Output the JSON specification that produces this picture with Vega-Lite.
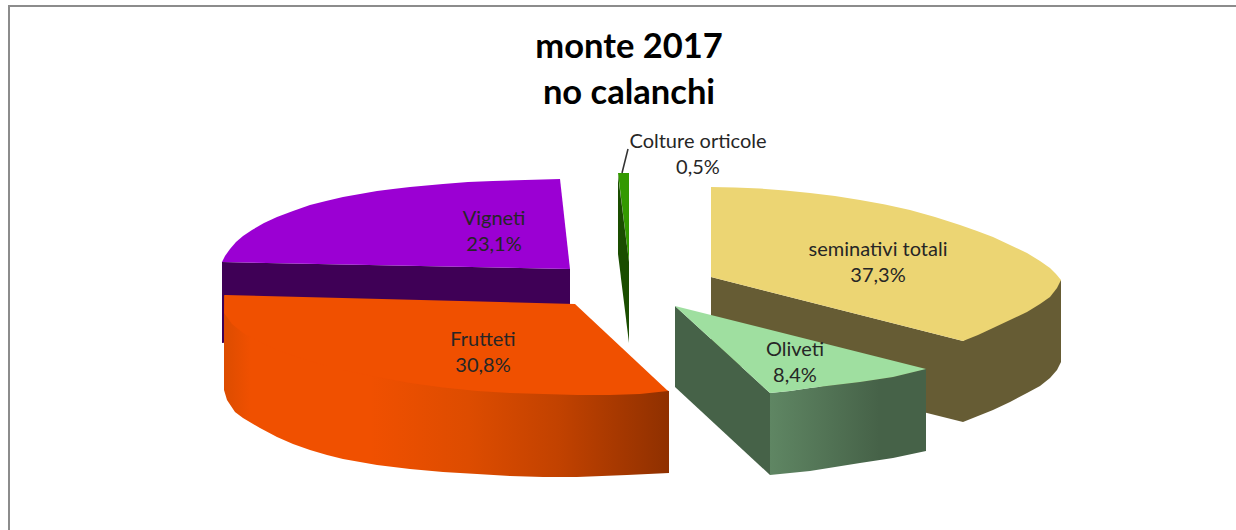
{
"$schema":"https://vega.github.io/schema/vega-lite/v6.json",
"width":1236,"height":530,"padding":0,
"autosize":{"type":"none"},
"background":"white",
"view":{"stroke":null},
"datasets":{
"outline":[
{"part":"frame","i":0,"x":-611,"y":-265},{"part":"frame","i":1,"x":-611,"y":259},{"part":"frame","i":2,"x":616,"y":259},
{"part":"leader","i":0,"x":2,"y":92},{"part":"leader","i":1,"x":8,"y":116},
{"part":"vigneti side","i":0,"x":-398,"y":3},{"part":"vigneti side","i":1,"x":-50,"y":-4},{"part":"vigneti side","i":2,"x":-50,"y":-39},{"part":"vigneti side","i":3,"x":-398,"y":-78},
{"part":"vigneti top","i":0,"x":-60,"y":86},{"part":"vigneti top","i":1,"x":-50,"y":-4},{"part":"vigneti top","i":2,"x":-398,"y":3},{"part":"vigneti top","i":3,"x":-395,"y":9},{"part":"vigneti top","i":4,"x":-390,"y":16},{"part":"vigneti top","i":5,"x":-384,"y":23},{"part":"vigneti top","i":6,"x":-377,"y":29},{"part":"vigneti top","i":7,"x":-368,"y":35},{"part":"vigneti top","i":8,"x":-356,"y":42},{"part":"vigneti top","i":9,"x":-343,"y":48},{"part":"vigneti top","i":10,"x":-327,"y":54},{"part":"vigneti top","i":11,"x":-310,"y":60},{"part":"vigneti top","i":12,"x":-294,"y":64},{"part":"vigneti top","i":13,"x":-277,"y":68},{"part":"vigneti top","i":14,"x":-260,"y":71},{"part":"vigneti top","i":15,"x":-243,"y":74},{"part":"vigneti top","i":16,"x":-227,"y":76},{"part":"vigneti top","i":17,"x":-210,"y":78},{"part":"vigneti top","i":18,"x":-177,"y":81},{"part":"vigneti top","i":19,"x":-152,"y":83},{"part":"vigneti top","i":20,"x":-127,"y":84},{"part":"vigneti top","i":21,"x":-95,"y":85},
{"part":"seminativi side","i":0,"x":91,"y":-12},{"part":"seminativi side","i":1,"x":343,"y":-76},{"part":"seminativi side","i":2,"x":441,"y":-15},{"part":"seminativi side","i":3,"x":441,"y":-97},{"part":"seminativi side","i":4,"x":437,"y":-105},{"part":"seminativi side","i":5,"x":430,"y":-113},{"part":"seminativi side","i":6,"x":420,"y":-121},{"part":"seminativi side","i":7,"x":407,"y":-128},{"part":"seminativi side","i":8,"x":390,"y":-137},{"part":"seminativi side","i":9,"x":373,"y":-145},{"part":"seminativi side","i":10,"x":358,"y":-151},{"part":"seminativi side","i":11,"x":343,"y":-157},{"part":"seminativi side","i":12,"x":91,"y":-94},
{"part":"seminativi top","i":0,"x":91,"y":78},{"part":"seminativi top","i":1,"x":115,"y":77.5},{"part":"seminativi top","i":2,"x":140,"y":76.5},{"part":"seminativi top","i":3,"x":165,"y":74.5},{"part":"seminativi top","i":4,"x":190,"y":72},{"part":"seminativi top","i":5,"x":215,"y":69},{"part":"seminativi top","i":6,"x":240,"y":65},{"part":"seminativi top","i":7,"x":265,"y":60.5},{"part":"seminativi top","i":8,"x":290,"y":55},{"part":"seminativi top","i":9,"x":315,"y":48},{"part":"seminativi top","i":10,"x":340,"y":40},{"part":"seminativi top","i":11,"x":357,"y":34},{"part":"seminativi top","i":12,"x":373,"y":28},{"part":"seminativi top","i":13,"x":390,"y":20},{"part":"seminativi top","i":14,"x":407,"y":12},{"part":"seminativi top","i":15,"x":420,"y":4},{"part":"seminativi top","i":16,"x":430,"y":-3},{"part":"seminativi top","i":17,"x":436,"y":-9},{"part":"seminativi top","i":18,"x":441,"y":-15},{"part":"seminativi top","i":19,"x":437,"y":-23},{"part":"seminativi top","i":20,"x":430,"y":-32},{"part":"seminativi top","i":21,"x":420,"y":-39},{"part":"seminativi top","i":22,"x":407,"y":-47},{"part":"seminativi top","i":23,"x":390,"y":-55},{"part":"seminativi top","i":24,"x":373,"y":-63},{"part":"seminativi top","i":25,"x":358,"y":-70},{"part":"seminativi top","i":26,"x":343,"y":-76},{"part":"seminativi top","i":27,"x":91,"y":-12},
{"part":"orticole top","i":0,"x":-2,"y":92},{"part":"orticole top","i":1,"x":9,"y":92},{"part":"orticole top","i":2,"x":9,"y":3},
{"part":"orticole side","i":0,"x":-2,"y":90},{"part":"orticole side","i":1,"x":-2,"y":11},{"part":"orticole side","i":2,"x":9,"y":-78},{"part":"orticole side","i":3,"x":9,"y":3},
{"part":"frutteti side","i":0,"x":-396,"y":-30},{"part":"frutteti side","i":1,"x":-396,"y":-125},{"part":"frutteti side","i":2,"x":-393,"y":-135},{"part":"frutteti side","i":3,"x":-385,"y":-147},{"part":"frutteti side","i":4,"x":-377,"y":-153},{"part":"frutteti side","i":5,"x":-360,"y":-163},{"part":"frutteti side","i":6,"x":-343,"y":-172},{"part":"frutteti side","i":7,"x":-327,"y":-179},{"part":"frutteti side","i":8,"x":-310,"y":-185},{"part":"frutteti side","i":9,"x":-293,"y":-190},{"part":"frutteti side","i":10,"x":-277,"y":-194},{"part":"frutteti side","i":11,"x":-243,"y":-200},{"part":"frutteti side","i":12,"x":-210,"y":-204},{"part":"frutteti side","i":13,"x":-177,"y":-207},{"part":"frutteti side","i":14,"x":-143,"y":-209},{"part":"frutteti side","i":15,"x":-110,"y":-211},{"part":"frutteti side","i":16,"x":-77,"y":-212},{"part":"frutteti side","i":17,"x":-43,"y":-212},{"part":"frutteti side","i":18,"x":7,"y":-210},{"part":"frutteti side","i":19,"x":49,"y":-208},{"part":"frutteti side","i":20,"x":49,"y":-126},
{"part":"frutteti top","i":0,"x":-395,"y":-30},{"part":"frutteti top","i":1,"x":-45,"y":-39},{"part":"frutteti top","i":2,"x":48,"y":-126},{"part":"frutteti top","i":3,"x":20,"y":-129},{"part":"frutteti top","i":4,"x":-10,"y":-130},{"part":"frutteti top","i":5,"x":-43,"y":-130},{"part":"frutteti top","i":6,"x":-77,"y":-129},{"part":"frutteti top","i":7,"x":-110,"y":-128},{"part":"frutteti top","i":8,"x":-143,"y":-126},{"part":"frutteti top","i":9,"x":-177,"y":-122.5},{"part":"frutteti top","i":10,"x":-210,"y":-118},{"part":"frutteti top","i":11,"x":-243,"y":-112},{"part":"frutteti top","i":12,"x":-277,"y":-105},{"part":"frutteti top","i":13,"x":-293,"y":-101},{"part":"frutteti top","i":14,"x":-310,"y":-96},{"part":"frutteti top","i":15,"x":-327,"y":-90.5},{"part":"frutteti top","i":16,"x":-343,"y":-85},{"part":"frutteti top","i":17,"x":-360,"y":-77},{"part":"frutteti top","i":18,"x":-377,"y":-68},{"part":"frutteti top","i":19,"x":-388,"y":-59},{"part":"frutteti top","i":20,"x":-396,"y":-48},
{"part":"oliveti inner","i":0,"x":55,"y":-41},{"part":"oliveti inner","i":1,"x":150,"y":-128},{"part":"oliveti inner","i":2,"x":150,"y":-210},{"part":"oliveti inner","i":3,"x":55,"y":-122},
{"part":"oliveti front","i":0,"x":150,"y":-128},{"part":"oliveti front","i":1,"x":170,"y":-126},{"part":"oliveti front","i":2,"x":190,"y":-123},{"part":"oliveti front","i":3,"x":215,"y":-120},{"part":"oliveti front","i":4,"x":240,"y":-117},{"part":"oliveti front","i":5,"x":273,"y":-112},{"part":"oliveti front","i":6,"x":306,"y":-104},{"part":"oliveti front","i":7,"x":306,"y":-186},{"part":"oliveti front","i":8,"x":273,"y":-193},{"part":"oliveti front","i":9,"x":240,"y":-198},{"part":"oliveti front","i":10,"x":215,"y":-202},{"part":"oliveti front","i":11,"x":190,"y":-206},{"part":"oliveti front","i":12,"x":170,"y":-208},{"part":"oliveti front","i":13,"x":150,"y":-210},
{"part":"oliveti top","i":0,"x":55,"y":-41},{"part":"oliveti top","i":1,"x":306,"y":-104},{"part":"oliveti top","i":2,"x":273,"y":-112},{"part":"oliveti top","i":3,"x":240,"y":-117},{"part":"oliveti top","i":4,"x":215,"y":-120},{"part":"oliveti top","i":5,"x":190,"y":-123},{"part":"oliveti top","i":6,"x":170,"y":-126},{"part":"oliveti top","i":7,"x":150,"y":-128}
],
"labels":[
{"slice":"Vigneti","label":"Vigneti\n23,1%","x":-126,"y":46},
{"slice":"Frutteti","label":"Frutteti\n30,8%","x":-137,"y":-75},
{"slice":"seminativi totali","label":"seminativi totali\n37,3%","x":258,"y":15},
{"slice":"Oliveti","label":"Oliveti\n8,4%","x":175,"y":-85},
{"slice":"Colture orticole","label":"Colture orticole\n0,5%","x":78,"y":123}
],
"heading":[{"label":"monte 2017\nno calanchi","x":9,"y":217}]
},
"encoding":{
"x":{"field":"x","type":"quantitative","axis":null,"scale":{"domain":[-620,616],"nice":false,"zero":false}},
"y":{"field":"y","type":"quantitative","axis":null,"scale":{"domain":[-265,265],"nice":false,"zero":false}}
},
"layer":[
{"data":{"name":"outline"},"transform":[{"filter":"datum.part==='frame'"}],"mark":{"type":"line","stroke":"#8c8c8c","strokeWidth":2,"interpolate":"linear"},"encoding":{"order":{"field":"i"}}},
{"data":{"name":"outline"},"transform":[{"filter":"datum.part==='vigneti side'"}],"mark":{"type":"line","fill":"#3f0056","stroke":null},"encoding":{"order":{"field":"i"}}},
{"data":{"name":"outline"},"transform":[{"filter":"datum.part==='vigneti top'"}],"mark":{"type":"line","fill":"#9b00d3","stroke":null},"encoding":{"order":{"field":"i"}}},
{"data":{"name":"outline"},"transform":[{"filter":"datum.part==='seminativi side'"}],"mark":{"type":"line","fill":"#665c34","stroke":null},"encoding":{"order":{"field":"i"}}},
{"data":{"name":"outline"},"transform":[{"filter":"datum.part==='seminativi top'"}],"mark":{"type":"line","fill":"#ecd573","stroke":null},"encoding":{"order":{"field":"i"}}},
{"data":{"name":"outline"},"transform":[{"filter":"datum.part==='orticole top'"}],"mark":{"type":"line","fill":"#339900","stroke":null},"encoding":{"order":{"field":"i"}}},
{"data":{"name":"outline"},"transform":[{"filter":"datum.part==='orticole side'"}],"mark":{"type":"line","fill":"#1a4d00","stroke":null},"encoding":{"order":{"field":"i"}}},
{"data":{"name":"outline"},"transform":[{"filter":"datum.part==='leader'"}],"mark":{"type":"line","stroke":"#333333","strokeWidth":1.5},"encoding":{"order":{"field":"i"}}},
{"data":{"name":"outline"},"transform":[{"filter":"datum.part==='frutteti side'"}],"mark":{"type":"line","stroke":null,"fill":{"gradient":"linear","x1":0,"y1":0,"x2":1,"y2":0,"stops":[{"offset":0,"color":"#dc4c00"},{"offset":0.06,"color":"#f05000"},{"offset":0.33,"color":"#f05000"},{"offset":0.55,"color":"#dd4c00"},{"offset":0.75,"color":"#c24200"},{"offset":1,"color":"#8f3000"}]}},"encoding":{"order":{"field":"i"}}},
{"data":{"name":"outline"},"transform":[{"filter":"datum.part==='frutteti top'"}],"mark":{"type":"line","fill":"#f05000","stroke":null},"encoding":{"order":{"field":"i"}}},
{"data":{"name":"outline"},"transform":[{"filter":"datum.part==='oliveti inner'"}],"mark":{"type":"line","fill":"#466248","stroke":null},"encoding":{"order":{"field":"i"}}},
{"data":{"name":"outline"},"transform":[{"filter":"datum.part==='oliveti front'"}],"mark":{"type":"line","stroke":null,"fill":{"gradient":"linear","x1":0,"y1":0,"x2":1,"y2":0,"stops":[{"offset":0,"color":"#5f8663"},{"offset":0.7,"color":"#466248"},{"offset":1,"color":"#466248"}]}},"encoding":{"order":{"field":"i"}}},
{"data":{"name":"outline"},"transform":[{"filter":"datum.part==='oliveti top'"}],"mark":{"type":"line","fill":"#9fdfa0","stroke":null},"encoding":{"order":{"field":"i"}}},
{"data":{"name":"labels"},"mark":{"type":"text","font":"Lato","fontSize":20,"lineBreak":"\n","lineHeight":26,"align":"center","baseline":"middle","color":"#262626"},"encoding":{"text":{"field":"label"}}},
{"data":{"name":"heading"},"mark":{"type":"text","font":"Lato","fontSize":34.5,"fontWeight":"bold","lineBreak":"\n","lineHeight":46,"align":"center","baseline":"middle","color":"#000000"},"encoding":{"text":{"field":"label"}}}
]
}
